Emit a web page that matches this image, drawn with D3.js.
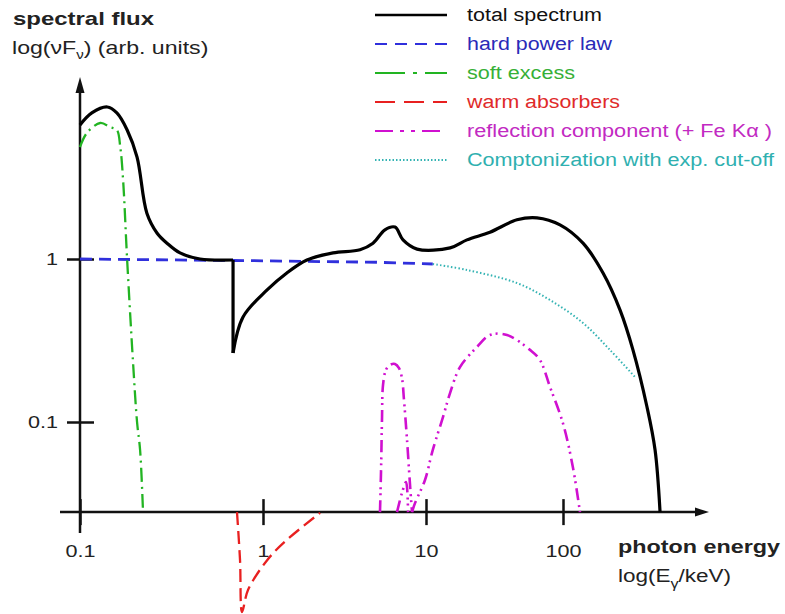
<!DOCTYPE html>
<html>
<head>
<meta charset="utf-8">
<title>AGN X-ray spectral components</title>
<style>
  body { margin: 0; background: #fff; }
  svg { font-family: "Liberation Sans", Arial, sans-serif; }
  .curve { fill: none; stroke-linejoin: round; stroke-linecap: butt; }
  .axis line, .axis-line { stroke: #111; stroke-width: 2.5px; }
</style>
</head>
<body>
<svg width="785" height="614"></svg>
<script src="https://d3js.org/d3.v7.min.js"></script>
<script>
// photon energy in keV, flux nuFnu in arbitrary units
var totalE = [0.1, 0.116, 0.141, 0.159, 0.181, 0.205, 0.232, 0.264, 0.299, 0.352, 0.453, 0.686, 0.686, 0.778,
  1.06, 1.40, 1.86, 2.69, 3.94, 4.73, 5.60, 6.45, 7.23, 8.81, 15.0, 19.9, 29.3, 46.1, 64.6, 95.1,
  140, 196, 261, 324, 410, 470, 511];
var totalF = [6.64, 7.87, 8.56, 7.87, 6.19, 4.22, 1.91, 1.44, 1.25, 1.09, 1.00, 0.986, 0.265, 0.441,
  0.646, 0.821, 0.986, 1.09, 1.14, 1.25, 1.51, 1.57, 1.31, 1.15, 1.17, 1.31, 1.46, 1.74, 1.79, 1.62,
  1.25, 0.821, 0.486, 0.277, 0.124, 0.0673, 0.028];

var hardE = [0.1, 1, 5, 11.2];
var hardF = [1.0, 0.975, 0.955, 0.932];

var comptE = [11.2, 19.9, 46.1, 80.4, 140, 220, 341];
var comptF = [0.932, 0.856, 0.712, 0.560, 0.405, 0.277, 0.186];

var softE = [0.1, 0.109, 0.129, 0.146, 0.159, 0.166, 0.172, 0.181, 0.195, 0.205, 0.213, 0.221];
var softF = [4.86, 5.93, 6.83, 6.45, 6.19, 4.86, 3.05, 0.986, 0.230, 0.1, 0.0673, 0.028];

var warmE = [0.721, 0.749, 0.768, 0.828, 1.06, 1.40, 2.24];
var warmF = [0.028, 0.0142, 0.00683, 0.00931, 0.0142, 0.0189, 0.0277];

// Fe K alpha line
var feE = [5.22, 5.30, 5.37, 5.45, 5.68, 6.01, 6.45, 6.83, 7.12, 7.33, 7.65, 7.98, 8.21];
var feF = [0.028, 0.0508, 0.103, 0.169, 0.209, 0.224, 0.227, 0.214, 0.186, 0.136, 0.0776, 0.0411, 0.028];

// reflection hump (null = break at the Fe edge)
var reflE = [6.64, 7.12, 7.54, 7.76, 8.0, 8.21, 8.56, 9.86, 11.2, 13.3, 15.0, 17.7, 23.5, 29.3, 39.0,
  57.4, 67.9, 80.4, 100, 118, 133];
var reflF = [0.028, 0.0367, 0.0428, 0.028, null, 0.028, 0.0318, 0.0441, 0.0673, 0.107, 0.151, 0.217,
  0.288, 0.342, 0.342, 0.277, 0.240, 0.164, 0.098, 0.0530, 0.028];

var xTicks = [0.1, 1, 10, 100];
var xTickLabels = ["0.1", "1", "10", "100"];
var yTicks = [0.1, 1];
var yTickLabels = ["0.1", "1"];

var legendKeys = ["total", "hard", "soft", "warm", "refl", "compt"];
var legendLabels = ["total spectrum", "hard power law", "soft excess", "warm absorbers",
  "reflection component (+ Fe K\u03b1 )", "Comptonization with exp. cut-off"];

var styles = {
  total: { color: "#000", text: "#111", width: 3.2, dash: null, legendDash: null, tw: 135 },
  hard:  { color: "#3030dc", text: "#2a2ab8", width: 2.8, dash: "12,7", legendDash: "12,8", tw: 145 },
  soft:  { color: "#22b422", text: "#37b037", width: 2.3, dash: "14,5,2,5", legendDash: "30,8,4,8", tw: 108 },
  warm:  { color: "#e82020", text: "#e02a2a", width: 2.3, dash: "13,6", legendDash: "20,9", tw: 153 },
  refl:  { color: "#d010d0", text: "#c22ac2", width: 2.6, dash: "12,5,2,4,2,5", legendDash: "18,7,4,7,4,7", tw: 305 },
  compt: { color: "#33b3b3", text: "#2fb0b0", width: 2, dash: "1.5,2.2", legendDash: "1.5,2", tw: 307 }
};

var svg = d3.select("svg");

// the sketch's decades are not equally wide, so a piecewise log scale
var x = d3.scaleLog().domain([0.1, 1, 10, 100, 1000]).range([80, 263, 426, 563, 700]);
var y = d3.scaleLog().domain([0.1, 1]).range([422, 259]);
var yFloor = 0.028;
var axisY = y(yFloor);

function pts(E, F) { return E.map(function(e, i) { return [e, F[i]]; }); }
function stretch(sel, w) {
  sel.attr("textLength", w).attr("lengthAdjust", "spacingAndGlyphs");
}
function stretchBy(sel, k) {
  sel.each(function() {
    var w = this.getComputedTextLength();
    d3.select(this).attr("textLength", w * k).attr("lengthAdjust", "spacingAndGlyphs");
  });
}

var smooth = d3.line().defined(function(d) { return d[1] != null; })
  .x(function(d) { return x(d[0]); }).y(function(d) { return y(d[1]); })
  .curve(d3.curveCatmullRom.alpha(0.5));
var straight = d3.line()
  .x(function(d) { return x(d[0]); }).y(function(d) { return y(d[1]); });

function draw(data, key, gen) {
  var s = styles[key];
  return svg.append("path").attr("class", "curve")
    .attr("d", gen(data))
    .attr("stroke", s.color)
    .attr("stroke-width", s.width)
    .attr("stroke-dasharray", s.dash);
}

// axes
var xAxis = svg.append("g").attr("class", "axis")
  .attr("transform", "translate(0," + axisY + ")")
  .call(d3.axisBottom(x).tickValues(xTicks).tickSize(13)
    .tickFormat(function(d, i) { return xTickLabels[i]; }));
xAxis.select(".domain").remove();
xAxis.selectAll("line").attr("y1", -13);
xAxis.selectAll("text").attr("y", 45).attr("dy", 0)
  .attr("font-size", 17).attr("font-family", null).attr("fill", "#222")
  .call(stretchBy, 1.27);

var yAxis = svg.append("g").attr("class", "axis")
  .attr("transform", "translate(80,0)")
  .call(d3.axisLeft(y).tickValues(yTicks).tickSize(13)
    .tickFormat(function(d, i) { return yTickLabels[i]; }));
yAxis.select(".domain").remove();
yAxis.selectAll("line").attr("x1", 14);
yAxis.selectAll("text").attr("x", -22).attr("dy", "0.32em")
  .attr("font-size", 17).attr("font-family", null).attr("fill", "#222")
  .call(stretchBy, 1.27);

svg.append("line").attr("class", "axis-line")
  .attr("x1", 60).attr("x2", 700).attr("y1", axisY).attr("y2", axisY);
svg.append("path").attr("d", "M709," + axisY + "L695," + (axisY - 4.5) + "L695," + (axisY + 4.5) + "Z")
  .attr("fill", "#111");
svg.append("line").attr("class", "axis-line")
  .attr("x1", 80).attr("x2", 80).attr("y1", 533).attr("y2", 88);
svg.append("path").attr("d", "M80,77L75.5,93L84.5,93Z").attr("fill", "#111");

// curves
draw(pts(comptE, comptF), "compt", smooth);
draw(pts(hardE, hardF), "hard", straight);
draw(pts(softE, softF), "soft", smooth);
draw(pts(warmE, warmF), "warm", smooth);
draw(pts(feE, feF), "refl", smooth);
draw(pts(reflE, reflF), "refl", smooth);

// total: smooth on both sides of the absorption edge, straight drop at the edge
var total = pts(totalE, totalF);
var edge = 11;
draw(total.slice(0, edge + 1), "total", smooth).attr("stroke-linecap", "round");
draw(total.slice(edge, edge + 2), "total", straight).attr("stroke-linecap", "round");
draw(total.slice(edge + 1), "total", smooth).attr("stroke-linecap", "round");

// legend
var legend = svg.append("g").selectAll("g")
  .data(legendKeys).enter().append("g")
  .attr("transform", function(d, i) { return "translate(0," + (15 + i * 29) + ")"; });
legend.append("line")
  .attr("x1", 375).attr("x2", 447)
  .attr("stroke", function(d) { return styles[d].color; })
  .attr("stroke-width", function(d) { return d === "total" ? 2.5 : 2.2; })
  .attr("stroke-dasharray", function(d) { return styles[d].legendDash; });
legend.append("text")
  .attr("x", 467).attr("y", 6)
  .attr("font-size", 18)
  .attr("fill", function(d) { return styles[d].text; })
  .text(function(d, i) { return legendLabels[i]; })
  .each(function(d) { d3.select(this).call(stretch, styles[d].tw); });

// axis titles
svg.append("text").attr("x", 13).attr("y", 25)
  .attr("font-size", 18.5).attr("font-weight", "bold").attr("fill", "#222")
  .text("spectral flux").call(stretch, 141);

var yl = svg.append("text").attr("transform", "translate(12,54) scale(1.25,1)")
  .attr("font-size", 18.5).attr("fill", "#222");
yl.append("tspan").text("log(\u03bdF");
yl.append("tspan").attr("font-size", 12).attr("dy", 5).text("\u03bd");
yl.append("tspan").attr("dy", -5).text(") (arb. units)");

svg.append("text").attr("x", 618).attr("y", 553)
  .attr("font-size", 18.5).attr("font-weight", "bold").attr("fill", "#222")
  .text("photon energy").call(stretch, 162);

var xl = svg.append("text").attr("transform", "translate(618,582) scale(1.25,1)")
  .attr("font-size", 18).attr("fill", "#222");
xl.append("tspan").text("log(E");
xl.append("tspan").attr("font-size", 13).attr("dy", 6).text("\u03b3");
xl.append("tspan").attr("dy", -6).text("/keV)");
</script>
</body>
</html>
